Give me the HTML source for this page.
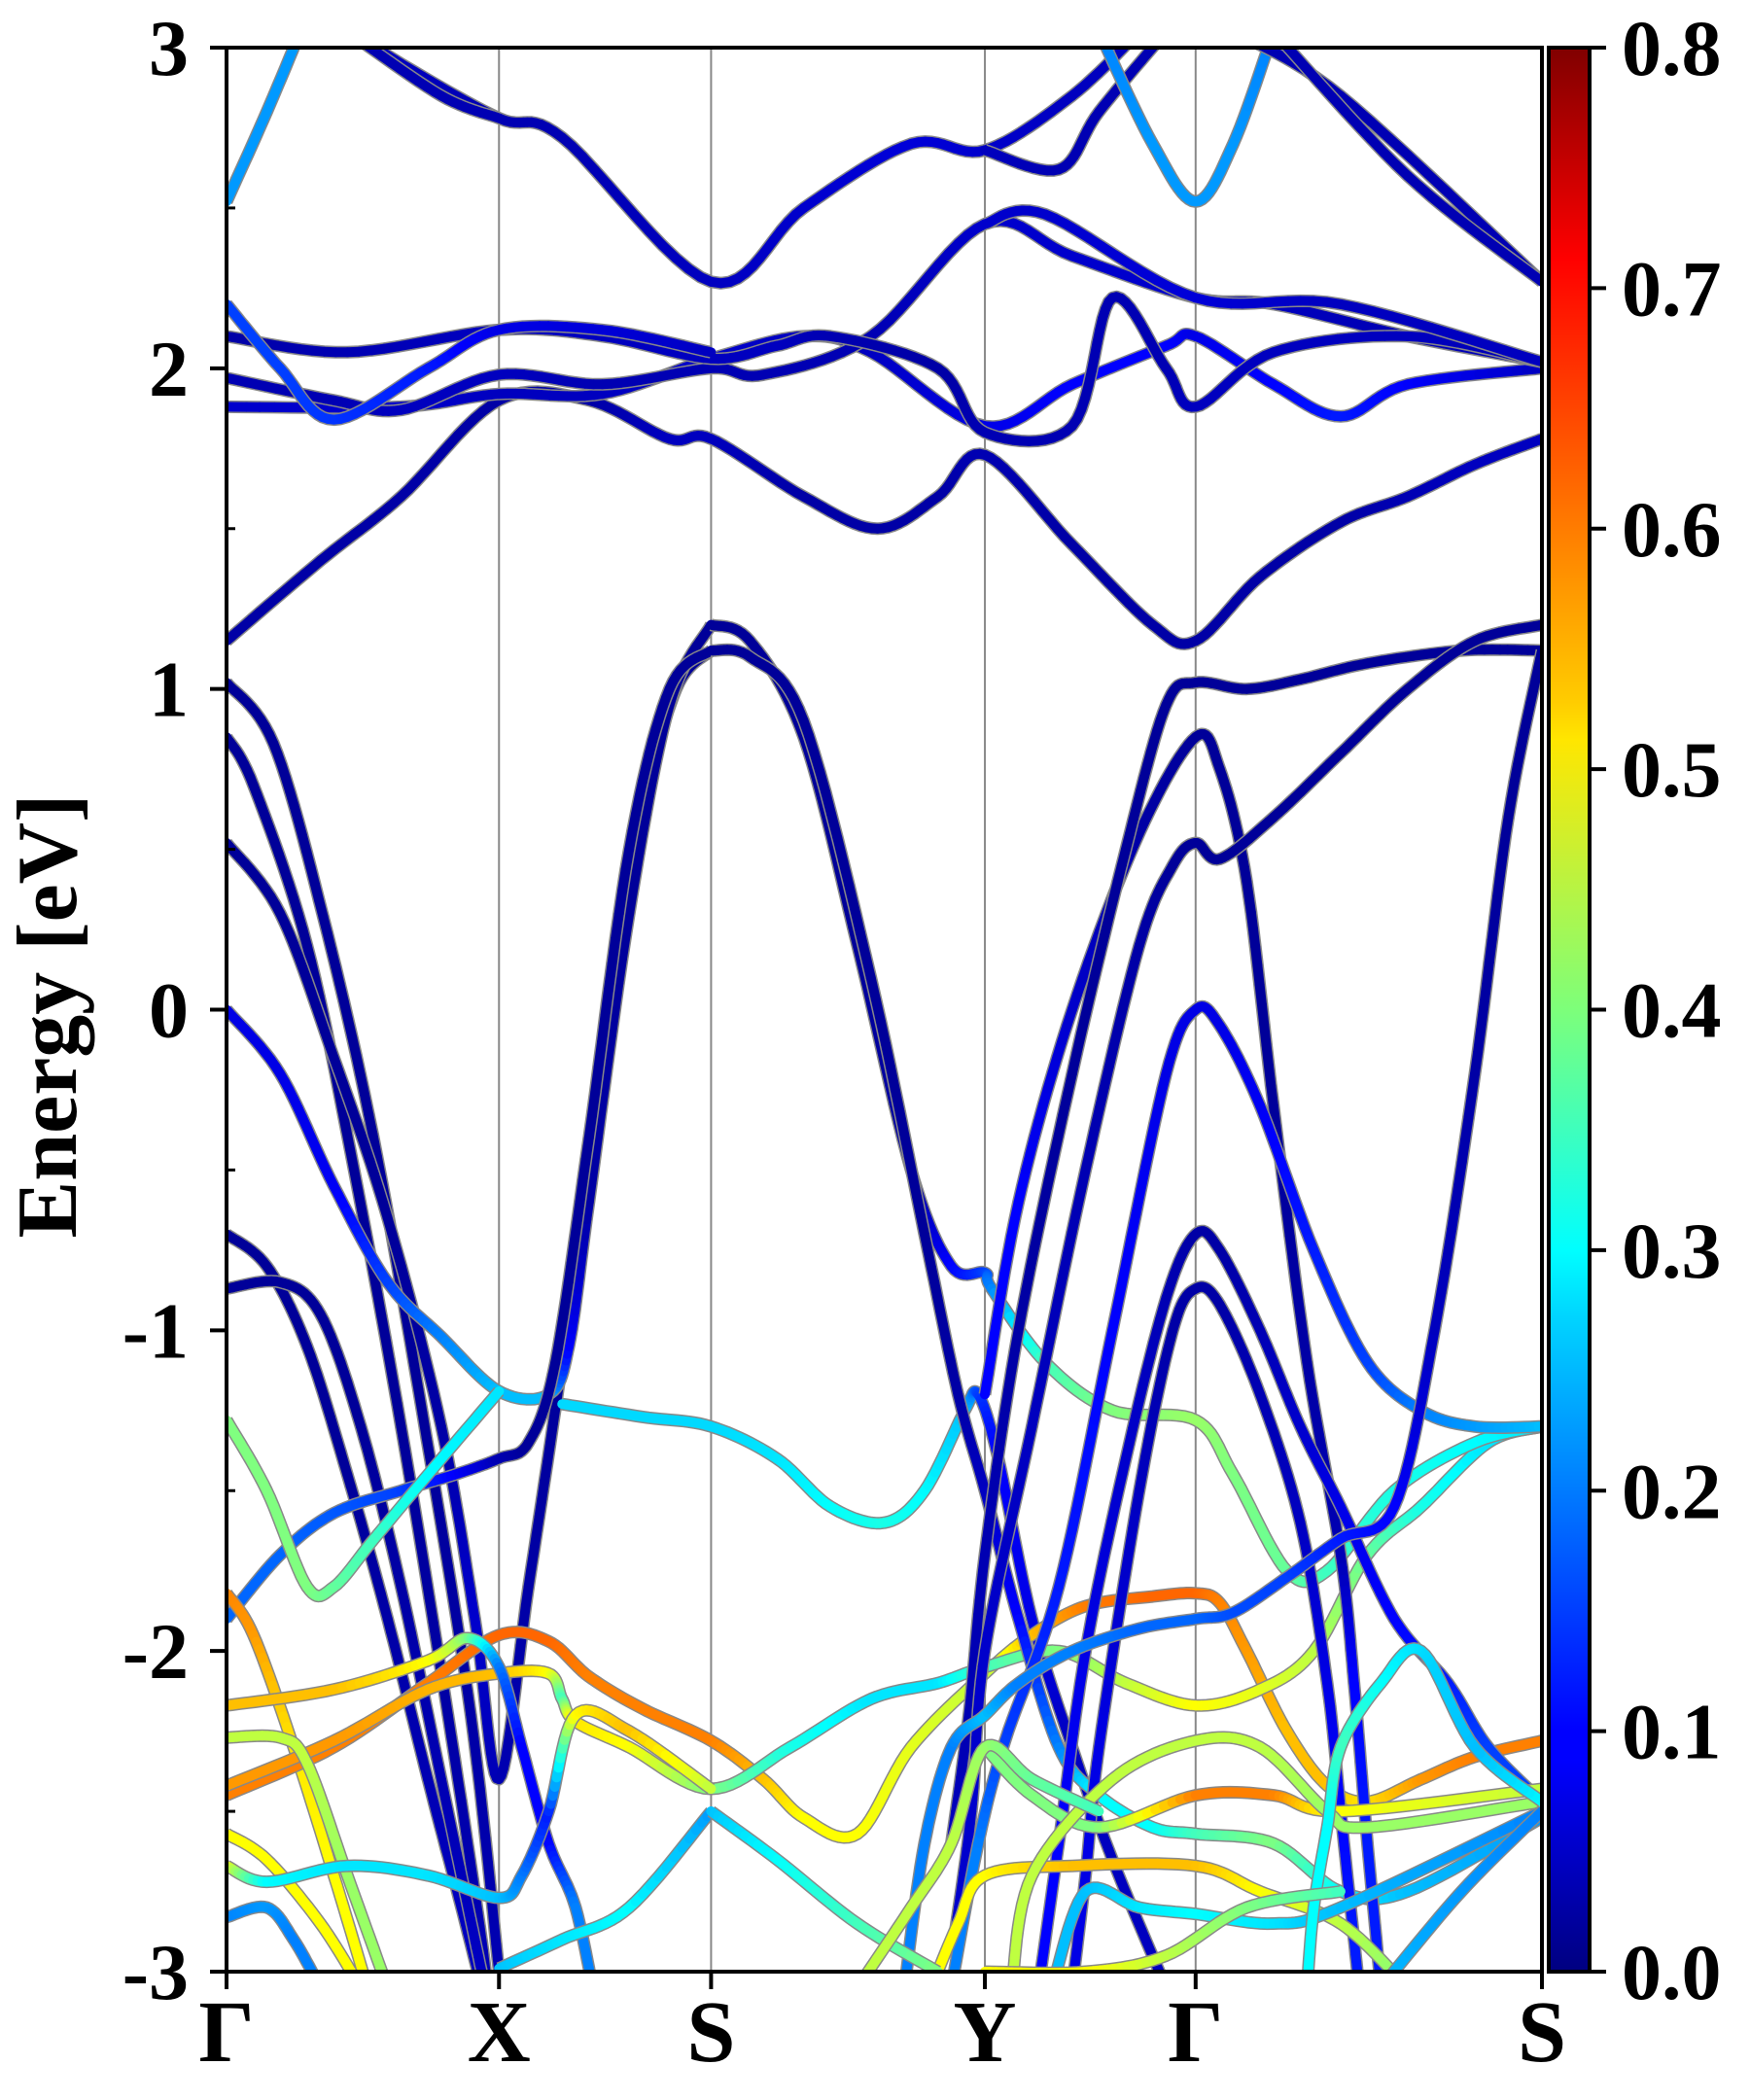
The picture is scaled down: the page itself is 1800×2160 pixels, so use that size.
<!DOCTYPE html>
<html><head><meta charset="utf-8"><style>
html,body{margin:0;padding:0;background:#fff;}
svg{display:block;}
text{font-family:"Liberation Serif",serif;font-weight:bold;fill:#000;}
</style></head>
<body>
<svg id="chart" width="1800" height="2160" viewBox="0 0 1800 2160" xmlns="http://www.w3.org/2000/svg">
<defs>
<clipPath id="plotclip"><rect x="233" y="49" width="1353" height="1979"/></clipPath>
<linearGradient id="jetgrad" x1="0" y1="1" x2="0" y2="0">
<stop offset="0" stop-color="#000080"/><stop offset="0.11" stop-color="#0000ff"/><stop offset="0.125" stop-color="#0000ff"/>
<stop offset="0.34" stop-color="#00d4ff"/><stop offset="0.375" stop-color="#00ffff"/><stop offset="0.5" stop-color="#7dff7a"/>
<stop offset="0.64" stop-color="#ffe600"/><stop offset="0.66" stop-color="#ffcc00"/><stop offset="0.89" stop-color="#ff0000"/><stop offset="1" stop-color="#800000"/>
</linearGradient>
</defs>
<g id="kgrid"></g>
<g id="bands" clip-path="url(#plotclip)"></g>
<rect x="233" y="49" width="1353" height="1979" fill="none" stroke="#000" stroke-width="4"/>
<g id="axes"></g>
<text x="0" y="0" font-size="88" text-anchor="middle" transform="translate(78,1045) rotate(-90)">Energy [eV]</text>
<rect x="1593" y="49" width="42" height="1979" fill="url(#jetgrad)" stroke="#000" stroke-width="4"/>
<g id="cbar"></g>
</svg>
<script>
// k-path coordinates (arbitrary path units 0..980) and labels
const kLabels = ["Γ","X","S","Y","Γ","S"];
const kTicks = [0,203,361,565,722,980];
const yTicks = [-3,-2,-1,0,1,2,3];
const cbarTicks = [0.0,0.1,0.2,0.3,0.4,0.5,0.6,0.7,0.8];
// each band: list of [k, energy(eV), weight]
const band1 = [[0,1.15,0.03],[70,1.4,0.03],[130,1.6,0.03],[203,1.9,0.03],[270,1.9,0.03],[330,1.78,0.05],[361,1.78,0.05],[430,1.6,0.03],[485,1.5,0.03],[530,1.6,0.03],[565,1.73,0.04],[630,1.45,0.03],[690,1.2,0.03],[722,1.15,0.03],[770,1.35,0.03],[830,1.52,0.03],[880,1.6,0.04],[930,1.7,0.05],[980,1.78,0.05]];
const band2 = [[0,1.88,0.06],[130,1.88,0.06],[203,1.92,0.05],[280,1.92,0.05],[361,2.03,0.06],[430,2.1,0.05],[480,2.05,0.05],[565,1.82,0.08],[630,1.95,0.1],[700,2.07,0.1],[722,2.1,0.08],[780,1.95,0.1],[830,1.85,0.12],[880,1.95,0.1],[980,2.0,0.05]];
const band3 = [[0,1.97,0.04],[80,1.9,0.04],[130,1.87,0.05],[203,1.98,0.05],[280,1.95,0.04],[361,2.0,0.04],[400,1.98,0.04],[480,2.1,0.04],[565,2.45,0.06],[630,2.35,0.06],[722,2.22,0.06],[780,2.2,0.05],[880,2.1,0.04],[980,2.02,0.05]];
const band4 = [[0,2.1,0.03],[90,2.05,0.04],[203,2.12,0.05],[280,2.1,0.05],[361,2.03,0.05],[410,2.07,0.05],[450,2.1,0.04],[530,2.0,0.03],[565,1.8,0.04],[630,1.82,0.04],[660,2.22,0.04],[700,2.0,0.04],[722,1.88,0.05],[780,2.05,0.05],[880,2.1,0.05],[980,2.02,0.04]];
const band5 = [[0,2.2,0.15],[40,2.0,0.15],[80,1.84,0.14],[150,2.0,0.12],[203,2.12,0.08],[280,2.12,0.07],[361,2.05,0.05]];
const band6 = [[0,2.52,0.22],[30,2.8,0.22],[60,3.1,0.22]];
const band7 = [[95,3.05,0.05],[130,2.95,0.05],[203,2.78,0.04],[250,2.72,0.04],[361,2.27,0.05],[430,2.5,0.06],[510,2.7,0.07],[565,2.68,0.06],[630,2.85,0.05],[680,3.05,0.05]];
const band8 = [[90,3.05,0.04],[160,2.85,0.04],[203,2.78,0.04]];
const band9 = [[565,2.68,0.05],[620,2.62,0.04],[650,2.8,0.04],[700,3.05,0.04]];
const band10 = [[565,2.45,0.06],[610,2.48,0.06],[722,2.22,0.07],[830,2.2,0.05],[980,2.02,0.05]];
const band11 = [[650,3.05,0.2],[690,2.7,0.22],[722,2.52,0.22],[750,2.7,0.22],[780,3.05,0.2]];
const band12 = [[750,3.05,0.04],[830,2.85,0.04],[980,2.27,0.04]];
const band13 = [[780,3.05,0.04],[880,2.6,0.04],[980,2.27,0.04]];
const band14 = [[0,1.02,0.02],[35,0.83,0.02],[72,0.29,0.02],[109,-0.39,0.02],[146,-1.26,0.02],[182,-2.2,0.03],[203,-3.0,0.04]];
const band15 = [[0,0.85,0.02],[20,0.7,0.02],[60,0.2,0.02],[95,-0.5,0.02],[130,-1.3,0.02],[165,-2.2,0.03],[190,-2.9,0.04],[195,-3.1,0.04]];
const band16 = [[0,0.52,0.02],[40,0.3,0.02],[80,-0.15,0.02],[120,-0.65,0.02],[160,-1.3,0.03],[185,-1.9,0.06],[203,-2.4,0.04],[225,-1.8,0.03],[250,-1.1,0.02],[280,-0.2,0.02],[310,0.6,0.02],[335,1.0,0.02],[361,1.12,0.02]];
const band17 = [[0,0.0,0.08],[40,-0.2,0.08],[80,-0.55,0.09],[120,-0.85,0.15],[160,-1.02,0.2],[203,-1.19,0.25],[240,-1.2,0.25],[255,-1.05,0.1],[270,-0.6,0.03],[300,0.3,0.02],[330,0.95,0.02],[361,1.2,0.02]];
const band18 = [[250,-1.23,0.27],[310,-1.27,0.27],[361,-1.3,0.27],[410,-1.4,0.28],[450,-1.55,0.3],[490,-1.6,0.32],[520,-1.5,0.3],[550,-1.25,0.25],[560,-1.2,0.15],[575,-1.4,0.1],[600,-1.9,0.08],[630,-2.3,0.05],[660,-2.65,0.05],[700,-3.05,0.05]];
const band19 = [[0,-0.7,0.02],[30,-0.8,0.02],[60,-1.05,0.02],[90,-1.45,0.02],[120,-1.9,0.03],[150,-2.4,0.04],[175,-2.8,0.05],[190,-3.05,0.05]];
const band20 = [[0,-0.87,0.02],[40,-0.85,0.02],[70,-0.95,0.02],[100,-1.3,0.02],[130,-1.8,0.03],[160,-2.4,0.04],[185,-2.9,0.05],[195,-3.1,0.05]];
const band21 = [[0,-1.9,0.18],[40,-1.7,0.18],[80,-1.57,0.17],[130,-1.5,0.15],[170,-1.45,0.1],[203,-1.4,0.04],[225,-1.35,0.02],[245,-1.1,0.02],[270,-0.4,0.02],[300,0.5,0.02],[330,1.0,0.02],[361,1.12,0.02]];
const band22 = [[0,-1.28,0.4],[30,-1.5,0.4],[60,-1.8,0.4],[80,-1.8,0.38],[110,-1.65,0.35],[150,-1.45,0.3],[203,-1.19,0.28]];
const band23 = [[0,-1.82,0.6],[20,-1.95,0.58],[50,-2.3,0.52],[80,-2.7,0.5],[105,-3.05,0.5]];
const band24 = [[0,-2.45,0.6],[80,-2.3,0.6],[150,-2.1,0.6],[203,-1.95,0.62],[240,-1.97,0.62],[270,-2.08,0.6],[310,-2.18,0.6],[361,-2.28,0.6],[400,-2.4,0.55],[430,-2.52,0.5],[470,-2.57,0.5],[510,-2.3,0.48],[565,-2.07,0.45],[600,-1.95,0.55],[640,-1.86,0.6],[690,-1.83,0.62],[722,-1.82,0.62],[740,-1.85,0.6],[760,-2.0,0.58],[790,-2.25,0.55],[820,-2.42,0.55],[850,-2.47,0.52],[890,-2.4,0.58],[930,-2.33,0.6],[980,-2.28,0.6]];
const band25 = [[0,-2.42,0.58],[80,-2.28,0.58],[150,-2.12,0.56],[203,-2.07,0.55],[240,-2.07,0.5],[250,-2.15,0.35],[260,-2.22,0.52],[300,-2.3,0.5],[361,-2.43,0.4],[420,-2.3,0.32],[480,-2.15,0.28],[530,-2.1,0.28],[565,-2.05,0.35],[620,-2.0,0.4],[670,-2.1,0.45],[722,-2.17,0.5],[770,-2.12,0.48],[810,-2.0,0.45],[850,-1.7,0.38],[890,-1.55,0.32],[940,-1.35,0.28],[980,-1.3,0.27]];
const band26 = [[0,-2.17,0.55],[80,-2.12,0.55],[150,-2.03,0.5],[180,-1.96,0.4],[203,-2.05,0.2],[220,-2.3,0.1],[240,-2.6,0.1],[260,-2.8,0.2],[275,-3.1,0.2]];
const band27 = [[361,1.2,0.02],[390,1.15,0.02],[430,0.85,0.02],[470,0.2,0.02],[510,-0.5,0.03],[540,-0.8,0.1],[565,-0.82,0.15],[570,-0.87,0.2],[610,-1.1,0.35],[660,-1.25,0.4],[722,-1.28,0.42],[750,-1.45,0.4],[790,-1.75,0.38],[820,-1.75,0.35],[870,-1.5,0.32],[930,-1.35,0.3],[980,-1.3,0.28]];
const band28 = [[361,1.12,0.02],[390,1.1,0.02],[430,0.9,0.02],[480,0.1,0.02],[520,-0.7,0.02],[545,-1.2,0.03],[565,-1.5,0.05],[590,-1.9,0.1],[620,-2.3,0.2],[650,-2.45,0.3],[690,-2.55,0.3],[722,-2.57,0.35],[780,-2.6,0.4],[830,-2.75,0.3],[880,-2.75,0.25],[980,-2.52,0.22]];
const band29 = [[565,-1.2,0.1],[590,-0.6,0.1],[630,0.0,0.06],[680,0.55,0.03],[722,0.85,0.02],[740,0.75,0.02],[760,0.4,0.02],[780,-0.3,0.02],[805,-1.1,0.03],[830,-1.7,0.04],[840,-2.1,0.1],[850,-2.6,0.12],[860,-3.05,0.12]];
const band30 = [[540,-2.6,0.05],[553,-2.2,0.04],[565,-1.7,0.04],[590,-1.0,0.03],[630,-0.2,0.02],[670,0.5,0.02],[700,0.95,0.02],[722,1.02,0.02],[760,1.0,0.02],[800,1.03,0.02],[850,1.08,0.02],[920,1.12,0.02],[980,1.12,0.02]];
const band31 = [[542,-2.9,0.06],[555,-2.5,0.06],[565,-2.0,0.06],[600,-1.3,0.05],[640,-0.5,0.04],[680,0.2,0.03],[705,0.45,0.02],[722,0.52,0.02],[740,0.47,0.02],[780,0.6,0.02],[830,0.8,0.02],[880,1.0,0.02],[930,1.15,0.02],[980,1.2,0.02]];
const band32 = [[540,-3.05,0.2],[560,-2.6,0.2],[580,-2.28,0.15],[620,-1.8,0.12],[660,-1.0,0.1],[700,-0.2,0.08],[722,0.0,0.08],[740,-0.05,0.08],[770,-0.3,0.09],[810,-0.75,0.12],[850,-1.1,0.15],[890,-1.25,0.2],[930,-1.3,0.22],[980,-1.3,0.25]];
const band33 = [[605,-3.05,0.1],[620,-2.6,0.1],[640,-2.0,0.08],[670,-1.4,0.06],[700,-0.9,0.04],[722,-0.7,0.03],[740,-0.75,0.03],[770,-1.0,0.04],[800,-1.3,0.06],[830,-1.55,0.08],[870,-1.9,0.1],[910,-2.1,0.12],[940,-2.3,0.15],[980,-2.47,0.15]];
const band34 = [[630,-3.05,0.08],[640,-2.7,0.08],[650,-2.3,0.08],[680,-1.5,0.05],[705,-1.0,0.03],[722,-0.87,0.03],[740,-0.92,0.03],[770,-1.2,0.04],[800,-1.6,0.05],[820,-2.1,0.08],[830,-2.5,0.1],[840,-2.9,0.12],[845,-3.1,0.12]];
const band35 = [[505,-3.05,0.2],[520,-2.6,0.2],[540,-2.3,0.2],[565,-2.2,0.25],[590,-2.1,0.2],[630,-2.0,0.2],[680,-1.93,0.18],[722,-1.9,0.18],[750,-1.88,0.16],[790,-1.77,0.15],[830,-1.65,0.12],[870,-1.55,0.1],[900,-1.0,0.05],[930,-0.2,0.03],[955,0.6,0.02],[980,1.12,0.02]];
const band36 = [[565,-2.3,0.4],[600,-2.45,0.4],[650,-2.55,0.4],[722,-2.45,0.6],[780,-2.45,0.6],[830,-2.5,0.5],[980,-2.43,0.45]];
const band37 = [[525,-3.05,0.5],[545,-2.85,0.5],[565,-2.7,0.5],[630,-2.67,0.55],[722,-2.67,0.55],[770,-2.75,0.5],[830,-2.85,0.45],[880,-3.05,0.4]];
const band38 = [[585,-3.05,0.45],[600,-2.7,0.45],[660,-2.4,0.45],[722,-2.28,0.45],[770,-2.3,0.45],[820,-2.5,0.42],[850,-2.55,0.42],[980,-2.47,0.42]];
const band39 = [[615,-3.05,0.25],[640,-2.75,0.25],[680,-2.8,0.28],[722,-2.82,0.3],[780,-2.85,0.28],[830,-2.8,0.25],[980,-2.5,0.2]];
const band40 = [[860,-3.05,0.25],[920,-2.75,0.22],[980,-2.5,0.2]];
const band41 = [[980,-2.47,0.3],[930,-2.3,0.25],[890,-2.0,0.27],[860,-2.1,0.3],[830,-2.3,0.35],[820,-2.55,0.3],[810,-2.8,0.3],[805,-3.05,0.3]];
const band42 = [[0,-2.27,0.45],[40,-2.27,0.45],[60,-2.35,0.45],[90,-2.7,0.42],[120,-3.05,0.42]];
const band43 = [[0,-2.57,0.5],[30,-2.65,0.5],[70,-2.85,0.5],[100,-3.05,0.5]];
const band44 = [[0,-2.67,0.5],[30,-2.72,0.3],[90,-2.67,0.28],[150,-2.7,0.28],[203,-2.77,0.25],[220,-2.7,0.2],[240,-2.5,0.12],[260,-2.2,0.5],[300,-2.25,0.55],[361,-2.43,0.45]];
const band45 = [[0,-2.83,0.2],[30,-2.8,0.22],[50,-2.9,0.2],[70,-3.05,0.2]];
const band46 = [[203,-2.99,0.25],[250,-2.9,0.28],[300,-2.8,0.3],[361,-2.5,0.22]];
const band47 = [[361,-2.5,0.25],[410,-2.65,0.3],[470,-2.85,0.35],[530,-3.0,0.4]];
const band48 = [[470,-3.05,0.45],[510,-2.8,0.45],[540,-2.6,0.45],[565,-2.3,0.42],[600,-2.4,0.38],[650,-2.5,0.35]];
const band49 = [[565,-3.0,0.5],[640,-3.0,0.5],[700,-2.95,0.45],[760,-2.8,0.4],[830,-2.75,0.35]];
const bands = [band1,band2,band3,band4,band5,band6,band7,band8,band9,band10,band11,band12,band13,band14,band15,band16,band17,band18,band19,band20,band21,band22,band23,band24,band25,band26,band27,band28,band29,band30,band31,band32,band33,band34,band35,band36,band37,band38,band39,band40,band41,band42,band43,band44,band45,band46,band47,band48,band49];

const NS = "http://www.w3.org/2000/svg";
const X0=233, X1=1586, Y0=49, Y1=2028;
function xk(k){return X0 + k/980*(X1-X0);}
function yE(e){return Y1 - (e+3)/6*(Y1-Y0);}
function cl(v){return Math.max(0,Math.min(1,v));}
function jet(w){const t=cl(w/0.8);
  const r=cl(1.5-Math.abs(4*t-3)), g=cl(1.5-Math.abs(4*t-2)), b=cl(1.5-Math.abs(4*t-1));
  return "rgb("+Math.round(r*255)+","+Math.round(g*255)+","+Math.round(b*255)+")";}
function cr(p0,p1,p2,p3,t){const t2=t*t,t3=t2*t;
  return 0.5*((2*p1)+(-p0+p2)*t+(2*p0-5*p1+4*p2-p3)*t2+(-p0+3*p1-3*p2+p3)*t3);}

const kg=document.getElementById('kgrid');
kTicks.forEach((k,i)=>{
  if(i>0 && i<kTicks.length-1){
    const l=document.createElementNS(NS,'line');
    l.setAttribute('x1',xk(k));l.setAttribute('x2',xk(k));l.setAttribute('y1',Y0);l.setAttribute('y2',Y1);
    l.setAttribute('stroke','#888');l.setAttribute('stroke-width','2');
    
    
    kg.appendChild(l);
  }
});

const bg=document.getElementById('bands');
bands.forEach((b,bi)=>{
  const pts=[];
  for(let i=0;i<b.length-1;i++){
    const p0=b[Math.max(0,i-1)],p1=b[i],p2=b[i+1],p3=b[Math.min(b.length-1,i+2)];
    const n=12;
    for(let s=0;s<n;s++){const t=s/n;
      pts.push([cr(p0[0],p1[0],p2[0],p3[0],t),cr(p0[1],p1[1],p2[1],p3[1],t),p1[2]+(p2[2]-p1[2])*t]);}
  }
  const last=b[b.length-1];pts.push([last[0],last[1],last[2]]);
  const g=document.createElementNS(NS,'g');
  
  
  const d=pts.map((p,i)=>(i?'L':'M')+xk(p[0]).toFixed(1)+' '+yE(p[1]).toFixed(1)).join(' ');
  const o=document.createElementNS(NS,'path');
  o.setAttribute('d',d);o.setAttribute('fill','none');o.setAttribute('stroke','#888');
  o.setAttribute('stroke-width','13');o.setAttribute('stroke-linejoin','round');
  
  
  g.appendChild(o);
  for(let i=0;i<pts.length-1;i++){
    const s=document.createElementNS(NS,'line');
    s.setAttribute('x1',xk(pts[i][0]).toFixed(1));s.setAttribute('y1',yE(pts[i][1]).toFixed(1));
    s.setAttribute('x2',xk(pts[i+1][0]).toFixed(1));s.setAttribute('y2',yE(pts[i+1][1]).toFixed(1));
    s.setAttribute('stroke',jet((pts[i][2]+pts[i+1][2])/2));s.setAttribute('stroke-width','10');
    s.setAttribute('stroke-linecap','round');
    
    
    g.appendChild(s);
  }
  bg.appendChild(g);
});

const ax=document.getElementById('axes');
yTicks.forEach(v=>{
  const t=document.createElementNS(NS,'line');
  t.setAttribute('x1',X0-17);t.setAttribute('x2',X0);t.setAttribute('y1',yE(v));t.setAttribute('y2',yE(v));
  t.setAttribute('stroke','#000');t.setAttribute('stroke-width','4');
  
  
  ax.appendChild(t);
  const tx=document.createElementNS(NS,'text');
  tx.setAttribute('x',194);tx.setAttribute('y',yE(v)+28);tx.setAttribute('font-size','82');tx.setAttribute('text-anchor','end');
  tx.textContent=String(v);
  
  
  ax.appendChild(tx);
});
for(let v=-2.5; v<3; v+=1){
  const t=document.createElementNS(NS,'line');
  t.setAttribute('x1',X0);t.setAttribute('x2',X0+9);t.setAttribute('y1',yE(v));t.setAttribute('y2',yE(v));
  t.setAttribute('stroke','#000');t.setAttribute('stroke-width','3');
  
  
  ax.appendChild(t);
}
kTicks.forEach((k,i)=>{
  const t=document.createElementNS(NS,'line');
  t.setAttribute('x1',xk(k));t.setAttribute('x2',xk(k));t.setAttribute('y1',Y1);t.setAttribute('y2',Y1+18);
  t.setAttribute('stroke','#000');t.setAttribute('stroke-width','4');
  
  
  ax.appendChild(t);
  const tx=document.createElementNS(NS,'text');
  tx.setAttribute('x',xk(k));tx.setAttribute('y',2120);tx.setAttribute('font-size','90');tx.setAttribute('text-anchor','middle');
  tx.textContent=kLabels[i];
  
  
  ax.appendChild(tx);
});

const cb=document.getElementById('cbar');
cbarTicks.forEach(v=>{
  const y=Y1-(v/0.8)*(Y1-Y0);
  const t=document.createElementNS(NS,'line');
  t.setAttribute('x1',1635);t.setAttribute('x2',1652);t.setAttribute('y1',y);t.setAttribute('y2',y);
  t.setAttribute('stroke','#000');t.setAttribute('stroke-width','4');
  
  
  cb.appendChild(t);
  const tx=document.createElementNS(NS,'text');
  tx.setAttribute('x',1668);tx.setAttribute('y',y+28);tx.setAttribute('font-size','82');
  tx.textContent=v.toFixed(1);
  
  
  cb.appendChild(tx);
});
</script>
</body></html>
